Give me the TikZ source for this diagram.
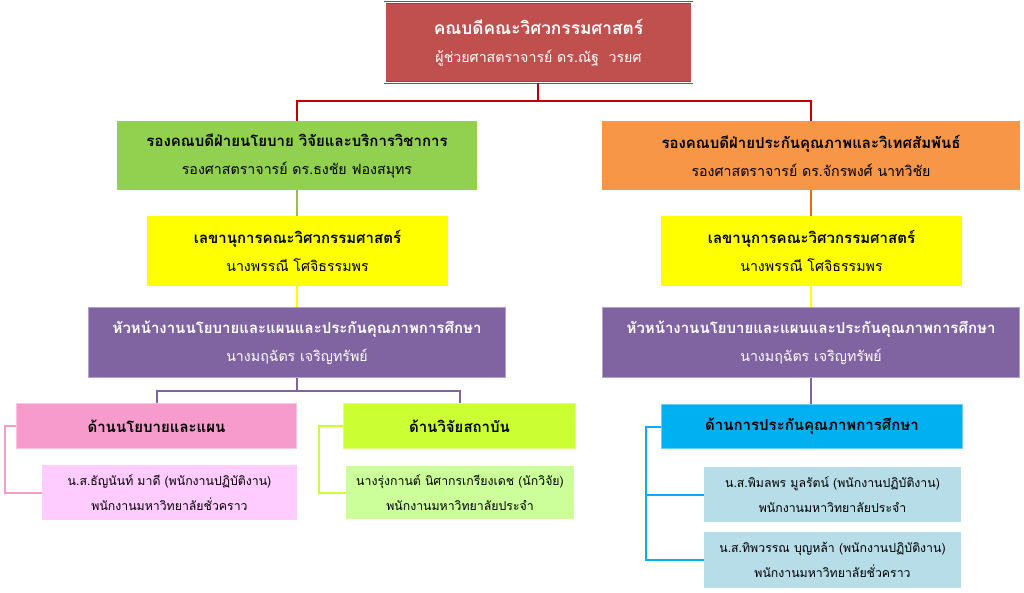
\documentclass[tikz,border=0pt]{standalone}
\usepackage{fontspec}
\newfontfamily\thaifont[Script=Thai]{Loma}
\usepackage{tikz}
\usetikzlibrary{shapes,positioning,calc}
\definecolor{deanred}{HTML}{C0504D}
\definecolor{deanedge}{HTML}{A03F3C}
\definecolor{linkred}{HTML}{C00000}
\definecolor{vpgreen}{HTML}{92D050}
\definecolor{linkgreen}{HTML}{9BBB59}
\definecolor{vporange}{HTML}{F79646}
\definecolor{linkorange}{HTML}{E46C0A}
\definecolor{secyellow}{HTML}{FFFF00}
\definecolor{headpurple}{HTML}{8064A2}
\definecolor{headedge}{HTML}{B3A2C7}
\definecolor{unitpink}{HTML}{F69BCB}
\definecolor{unitpinkedge}{HTML}{FAC3DF}
\definecolor{staffpink}{HTML}{FFCCFF}
\definecolor{unitlime}{HTML}{CCFF33}
\definecolor{unitlimeedge}{HTML}{E0FF80}
\definecolor{stafflime}{HTML}{CCFF99}
\definecolor{unitcyan}{HTML}{00B0F0}
\definecolor{unitcyanedge}{HTML}{66D0F6}
\definecolor{staffblue}{HTML}{B7DDE8}
\newcommand\posttitle[1]{{\fontsize{15}{28}\selectfont\bfseries #1}}
\newcommand\deantitle[1]{{\fontsize{17.3}{30}\selectfont\bfseries #1}}

\begin{document}
\begin{tikzpicture}[x=1pt, y=-1pt, thick,
  font=\thaifont\fontsize{14.2}{28}\selectfont,
  card/.style={rectangle, align=center, inner sep=0pt},
  deanbox/.style={card, fill=deanred, draw=deanedge, double=white, double distance=1.2pt, line width=.6pt, text=white},
  vpbox/.style={card, fill=#1},
  secbox/.style={card, fill=secyellow},
  headbox/.style={card, fill=headpurple, draw=headedge, line width=1.5pt, text=white},
  unitbox/.style 2 args={card, fill=#1, draw=#2, line width=1.5pt},
  staffbox/.style={card, fill=#1, font=\thaifont\fontsize{12.3}{25}\selectfont},
  link/.style={draw=#1, line width=2pt}]
\useasboundingbox (0,0) rectangle (1024,593);

\node (dean) [deanbox, minimum width=307, minimum height=80] at (538.5,42.5) {\deantitle{คณบดีคณะวิศวกรรมศาสตร์}\\ผู้ช่วยศาสตราจารย์ ดร.ณัฐ~ วรยศ};
\node (vpl) [vpbox=vpgreen, minimum width=360, minimum height=69] at (297,155.5) {\posttitle{รองคณบดีฝ่ายนโยบาย วิจัยและบริการวิชาการ}\\รองศาสตราจารย์ ดร.ธงชัย ฟองสมุทร};
\node (vpr) [vpbox=vporange, minimum width=418, minimum height=69] at (811,155.5) {\posttitle{รองคณบดีฝ่ายประกันคุณภาพและวิเทศสัมพันธ์}\\รองศาสตราจารย์ ดร.จักรพงศ์ นาทวิชัย};
\node (secl) [secbox, minimum width=301, minimum height=70] at (297.5,251) {\posttitle{เลขานุการคณะวิศวกรรมศาสตร์}\\นางพรรณี โศจิธรรมพร};
\node (secr) [secbox, minimum width=301, minimum height=70] at (811.5,251) {\posttitle{เลขานุการคณะวิศวกรรมศาสตร์}\\นางพรรณี โศจิธรรมพร};
\node (headl) [headbox, minimum width=417, minimum height=70] at (297,342.5) {\posttitle{หัวหน้างานนโยบายและแผนและประกันคุณภาพการศึกษา}\\นางมฤฉัตร เจริญทรัพย์};
\node (headr) [headbox, minimum width=417, minimum height=70] at (811,342.5) {\posttitle{หัวหน้างานนโยบายและแผนและประกันคุณภาพการศึกษา}\\นางมฤฉัตร เจริญทรัพย์};
\node (policy) [unitbox={unitpink}{unitpinkedge}, minimum width=280, minimum height=45] at (156.5,426) {\posttitle{ด้านนโยบายและแผน}};
\node (research) [unitbox={unitlime}{unitlimeedge}, minimum width=232, minimum height=45] at (459.5,426) {\posttitle{ด้านวิจัยสถาบัน}};
\node (quality) [unitbox={unitcyan}{unitcyanedge}, minimum width=301, minimum height=44] at (812,426.5) {\posttitle{ด้านการประกันคุณภาพการศึกษา}};
\node (policystaff) [staffbox=staffpink, minimum width=255, minimum height=55] at (169.5,492.5) {น.ส.ธัญนันท์ มาดี (พนักงานปฏิบัติงาน)\\พนักงานมหาวิทยาลัยชั่วคราว};
\node (researchstaff) [staffbox=stafflime, minimum width=228, minimum height=53] at (460,492.5) {นางรุ่งกานต์ นิศากรเกรียงเดช (นักวิจัย)\\พนักงานมหาวิทยาลัยประจำ};
\node (qualitystaffa) [staffbox=staffblue, minimum width=257, minimum height=55] at (832.5,494.5) {น.ส.พิมลพร มูลรัตน์ (พนักงานปฏิบัติงาน)\\พนักงานมหาวิทยาลัยประจำ};
\node (qualitystaffb) [staffbox=staffblue, minimum width=257, minimum height=56] at (832.5,560) {น.ส.ทิพวรรณ บุญหล้า (พนักงานปฏิบัติงาน)\\พนักงานมหาวิทยาลัยชั่วคราว};

\coordinate (deanjoint) at (538,101);
\coordinate (headljoint) at (297,391);
\coordinate (policyrail) at (5,426);
\coordinate (researchrail) at (319,426);
\coordinate (qualityrail) at (646,426.5);

\draw[link=linkred] (dean.south -| deanjoint) -- (deanjoint) -| (vpl.north);
\draw[link=linkred] (deanjoint) -| (vpr.north);
\draw[link=linkgreen] (vpl.south) -- (vpl.south |- secl.north);
\draw[link=linkorange] (vpr.south) -- (vpr.south |- secr.north);
\draw[link=secyellow] (secl.south -| headl) -- (headl.north);
\draw[link=secyellow] (secr.south -| headr) -- (headr.north);
\draw[link=headpurple] (headl.south) -- (headljoint) -| (policy.north);
\draw[link=headpurple] (headljoint) -| (research.north);
\draw[link=headpurple] (headr.south) -- (headr.south |- quality.north);
\draw[link=unitpink] (policy.west) -- (policyrail) |- (policystaff.west);
\draw[link=unitlime] (research.west) -- (researchrail) |- (researchstaff.west);
\draw[link=unitcyan] (quality.west) -- (qualityrail) |- (qualitystaffa.west);
\draw[link=unitcyan] (qualityrail) |- (qualitystaffb.west);
\end{tikzpicture}
\end{document}
